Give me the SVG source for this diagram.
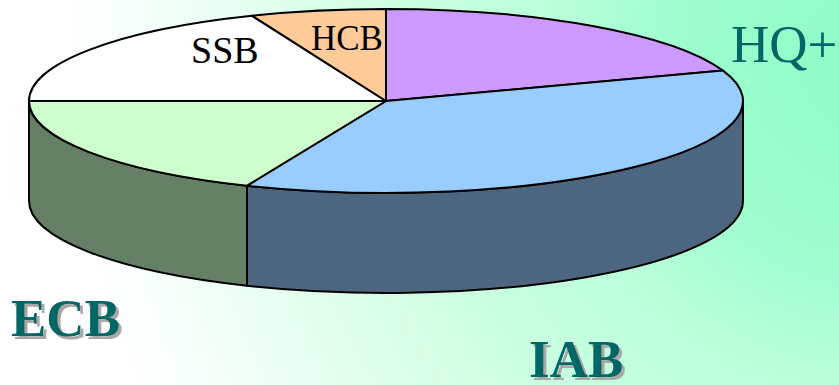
<svg xmlns="http://www.w3.org/2000/svg" width="839" height="385" viewBox="0 0 839 385">
<defs>
<radialGradient id="bg" gradientUnits="userSpaceOnUse" cx="880" cy="60" r="880">
<stop offset="0" stop-color="#8CFCC4"/>
<stop offset="0.25" stop-color="#A0FDD0"/>
<stop offset="0.37" stop-color="#BAFFDA"/>
<stop offset="0.5" stop-color="#C6FFE0"/>
<stop offset="0.6" stop-color="#D4FFE6"/>
<stop offset="0.8" stop-color="#F0FFF7"/>
<stop offset="0.93" stop-color="#FFFFFF"/>
</radialGradient>
<filter id="sh" x="-10%" y="-10%" width="130%" height="130%">
<feDropShadow dx="3" dy="3" stdDeviation="0.4" flood-color="#A8A8A8" flood-opacity="1"/>
</filter>
<style>
.edge{stroke:#000;stroke-width:2;stroke-linejoin:round}
.lbl{font-family:"Liberation Serif","Times New Roman",serif;fill:#000}
.big{font-family:"Liberation Serif","Times New Roman",serif;fill:#006666}
.bold{font-weight:bold;font-size:53px;filter:url(#sh)}
</style>
</defs>
<rect width="839" height="385" fill="url(#bg)"/>
<g id="pie">
<g id="ecb-side"><path class="edge" fill="#668066" d="M29,101 L29,201 A357,92 0 0,0 247,285.7 L247,185.7 A357,92 0 0,1 29,101 Z"/></g>
<g id="iab-side"><path class="edge" fill="#4C6680" d="M247,185.7 L247,285.7 A357,92 0 0,0 743,201 L743,101 A357,92 0 0,1 247,185.7 Z"/></g>
<g id="hq"><path class="edge" fill="#CC99FF" d="M386,101 L386,9 A357,92 0 0,1 723,70.6 Z"/></g>
<g id="iab"><path class="edge" fill="#99CCFF" d="M386,101 L723,70.6 A357,92 0 0,1 247,185.7 Z"/></g>
<g id="ecb"><path class="edge" fill="#CCFFCC" d="M386,101 L247,185.7 A357,92 0 0,1 29,101 Z"/></g>
<g id="ssb"><path class="edge" fill="#FFFFFF" d="M386,101 L29,101 A357,92 0 0,1 252,15.7 Z"/></g>
<g id="hcb"><path class="edge" fill="#FFCC99" d="M386,101 L252,15.7 A357,92 0 0,1 386,9 Z"/></g>
</g>
<g id="labels">
<text class="lbl" x="191" y="63" font-size="38">SSB</text>
<text class="lbl" x="311" y="50" font-size="35">HCB</text>
<text class="big" x="731" y="62" font-size="53">HQ+</text>
<text class="big bold" x="11" y="336">ECB</text>
<text class="big bold" x="529" y="377">IAB</text>
</g>
</svg>
